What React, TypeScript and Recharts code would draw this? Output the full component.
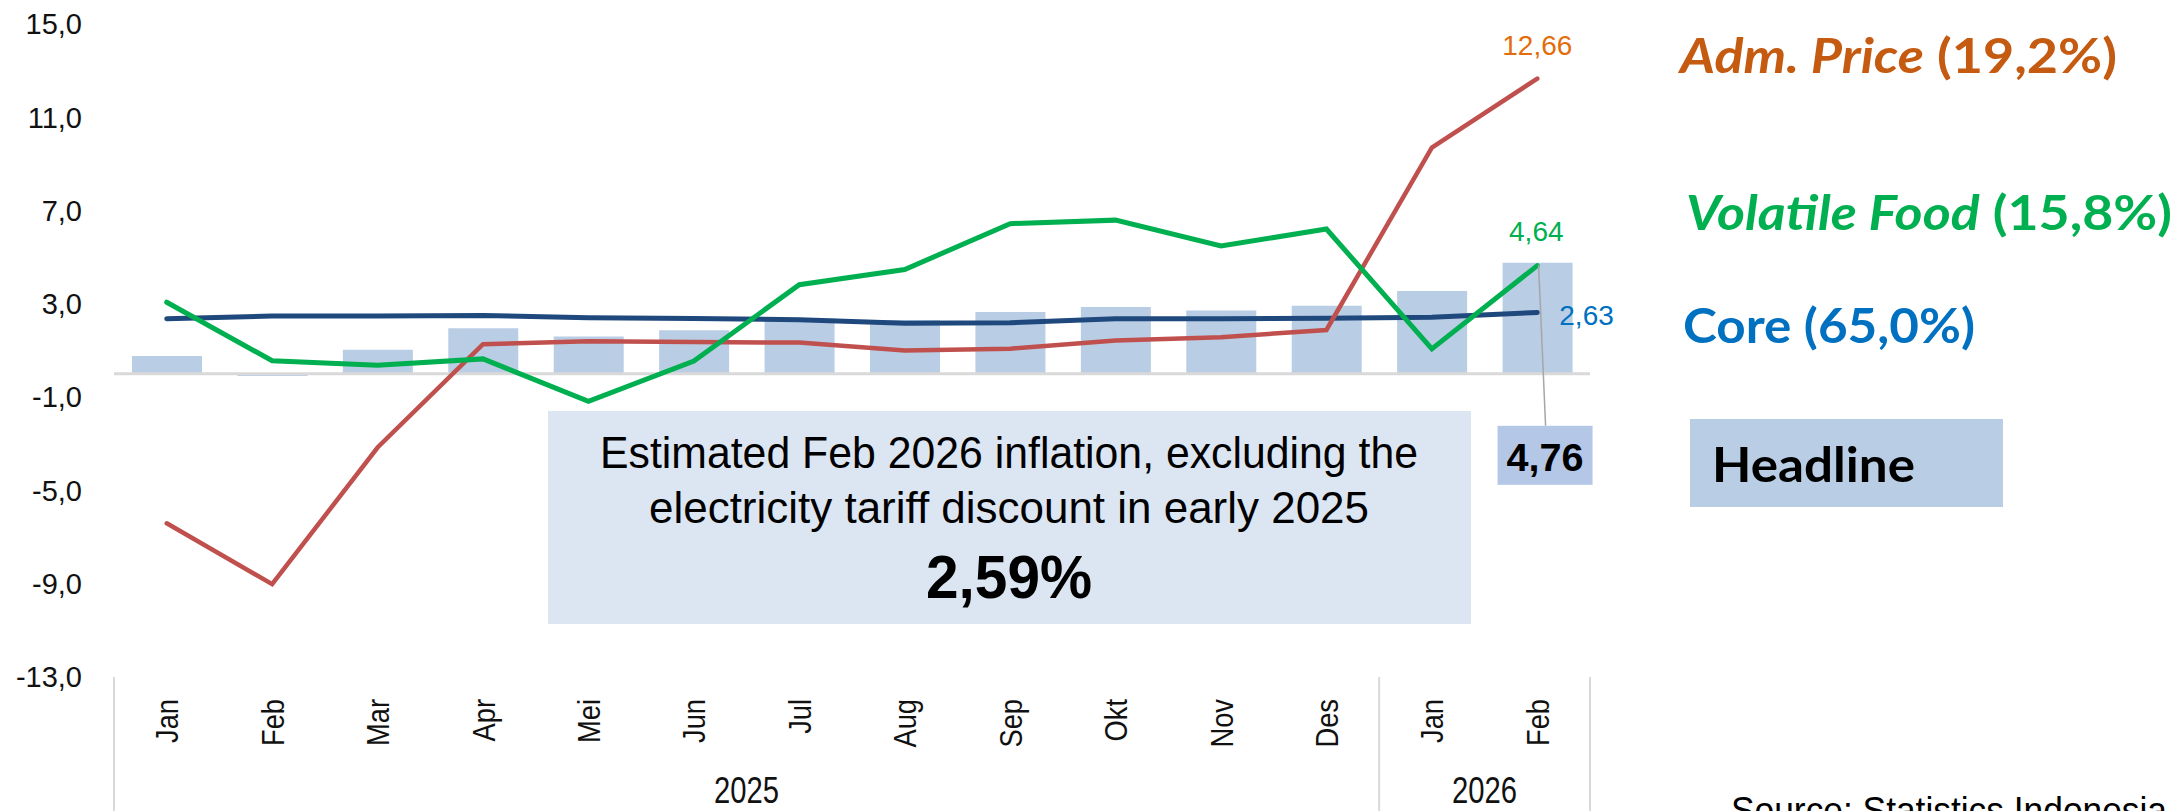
import React from "react";
import {
  ComposedChart,
  Bar,
  Line,
  XAxis,
  YAxis,
  ReferenceLine,
  LabelList,
} from "recharts";

// ---- data ----
const months = ["Jan", "Feb", "Mar", "Apr", "Mei", "Jun", "Jul", "Aug", "Sep", "Okt", "Nov", "Des", "Jan", "Feb"];
const years = ["2025", "2025", "2025", "2025", "2025", "2025", "2025", "2025", "2025", "2025", "2025", "2025", "2026", "2026"];
const headline = [0.76, -0.09, 1.03, 1.95, 1.6, 1.87, 2.37, 2.31, 2.65, 2.86, 2.72, 2.92, 3.55, 4.76];
const core = [2.36, 2.48, 2.48, 2.5, 2.4, 2.37, 2.32, 2.17, 2.19, 2.36, 2.36, 2.38, 2.43, 2.63];
const volatileFood = [3.07, 0.56, 0.37, 0.64, -1.18, 0.55, 3.82, 4.47, 6.44, 6.59, 5.48, 6.21, 1.07, 4.64];
const admPrice = [-6.41, -9.02, -3.16, 1.27, 1.4, 1.36, 1.34, 1.0, 1.08, 1.43, 1.57, 1.88, 9.7, 12.66];
const yTicks = [-13, -9, -5, -1, 3, 7, 11, 15];

const data = months.map((m, i) => ({
  m,
  year: years[i],
  headline: headline[i],
  core: core[i],
  vf: volatileFood[i],
  adm: admPrice[i],
}));

// ---- layout ----
const W = 2179;
const H = 811;
const PLOT_LEFT = 114;
const PLOT_RIGHT = 1590;
const PLOT_TOP = 24;
const PLOT_BOTTOM = 677;
const BAND = (PLOT_RIGHT - PLOT_LEFT) / months.length;

const ARIAL = "'Liberation Sans', Arial, sans-serif";
const LEGEND_FONT = "Lato, 'Open Sans', sans-serif";
const fmt = (v: number) => v.toFixed(2).replace(".", ",");
const last = months.length - 1;

const MonthTick = (props: any) => {
  const { x, index } = props;
  const year = years[index];
  const firstOfYear = index === 0 || years[index - 1] !== year;
  const count = years.filter((y) => y === year).length;
  const left = x - BAND / 2;
  return (
    <g>
      <text
        transform={`translate(${x + 11.5},${PLOT_BOTTOM + 22}) rotate(-90) scale(0.88,1)`}
        textAnchor="end"
        fontSize={31}
        fontFamily={ARIAL}
        fill="#111"
      >
        {months[index]}
      </text>
      {firstOfYear && (
        <>
          <line x1={left} x2={left} y1={PLOT_BOTTOM} y2={H} stroke="#D9D9D9" strokeWidth={2} />
          <text
            x={left + (count * BAND) / 2}
            y={PLOT_BOTTOM + 126}
            textAnchor="middle"
            fontSize={36}
            fontFamily={ARIAL}
            textLength={65}
            lengthAdjust="spacingAndGlyphs"
            fill="#111"
          >
            {year}
          </text>
        </>
      )}
      {index === last && (
        <line x1={x + BAND / 2} x2={x + BAND / 2} y1={PLOT_BOTTOM} y2={H} stroke="#D9D9D9" strokeWidth={2} />
      )}
    </g>
  );
};

const endLabel =
  (color: string, dx: number, dy: number, anchor: "middle" | "start") =>
  (props: any) => {
    const { x, y, value, index } = props;
    if (index !== last) return null;
    return (
      <text x={x + dx} y={y + dy} textAnchor={anchor} fontSize={28} fontFamily={ARIAL} fill={color}>
        {fmt(value)}
      </text>
    );
  };

const HeadlineLabel = (props: any) => {
  const { x, y, width, value, index } = props;
  if (index !== last) return null;
  const cx = x + width / 2;
  return (
    <g>
      <line x1={cx + 1} y1={y + 2} x2={cx + 8} y2={y + 163} stroke="#A6A6A6" strokeWidth={1.5} />
      <rect x={cx - 40} y={y + 163} width={95} height={59} fill="#B4C7E7" />
      <text
        x={cx + 7.5}
        y={y + 208}
        textAnchor="middle"
        fontSize={39}
        fontWeight="bold"
        fontFamily={ARIAL}
        textLength={77}
        lengthAdjust="spacingAndGlyphs"
        fill="#000"
      >
        {fmt(value)}
      </text>
    </g>
  );
};

export default function App() {
  return (
    <div style={{ position: "absolute", left: 0, top: 0, width: W, height: H, background: "#fff", overflow: "hidden" }}>
      <ComposedChart
        width={W}
        height={H}
        data={data}
        margin={{ top: PLOT_TOP, right: W - PLOT_RIGHT, bottom: 0, left: PLOT_LEFT - 100 }}
      >
        <XAxis
          dataKey="m"
          height={H - PLOT_BOTTOM}
          axisLine={false}
          tickLine={false}
          tickSize={0}
          tickMargin={0}
          interval={0}
          tick={<MonthTick />}
        />
        <YAxis
          width={100}
          domain={[-13, 15]}
          ticks={yTicks}
          interval={0}
          axisLine={false}
          tickLine={false}
          tickSize={0}
          tickMargin={32}
          tickFormatter={(v) => Number(v).toFixed(1).replace(".", ",")}
          tick={{ fontSize: 29, fill: "#111", fontFamily: ARIAL }}
        />
        <ReferenceLine y={0} stroke="#D9D9D9" strokeWidth={3} />
        <Bar dataKey="headline" fill="#B9CDE5" barSize={70} isAnimationActive={false}>
          <LabelList dataKey="headline" content={<HeadlineLabel />} />
        </Bar>
        <Line
          type="linear"
          dataKey="core"
          stroke="#1F497D"
          strokeWidth={5}
          dot={false}
          strokeLinecap="round"
          isAnimationActive={false}
        >
          <LabelList dataKey="core" content={endLabel("#0070C0", 22, 13, "start")} />
        </Line>
        <Line
          type="linear"
          dataKey="adm"
          stroke="#C0504D"
          strokeWidth={4.5}
          dot={false}
          strokeLinecap="round"
          isAnimationActive={false}
        >
          <LabelList dataKey="adm" content={endLabel("#E46C0A", 0, -24, "middle")} />
        </Line>
        <Line
          type="linear"
          dataKey="vf"
          stroke="#00B050"
          strokeWidth={5}
          dot={false}
          strokeLinecap="round"
          isAnimationActive={false}
        >
          <LabelList dataKey="vf" content={endLabel("#00B050", -1, -25, "middle")} />
        </Line>
      </ComposedChart>

      <svg width={W} height={H} style={{ position: "absolute", left: 0, top: 0, pointerEvents: "none" }}>
        {/* annotation box */}
        <rect x={548} y={411} width={923} height={213} fill="#DCE6F2" />
        <text x={1009} y={468} textAnchor="middle" fontSize={44} fontFamily={ARIAL} textLength={818} lengthAdjust="spacingAndGlyphs" fill="#000">
          Estimated Feb 2026 inflation, excluding the
        </text>
        <text x={1009} y={523} textAnchor="middle" fontSize={44} fontFamily={ARIAL} textLength={720} lengthAdjust="spacingAndGlyphs" fill="#000">
          electricity tariff discount in early 2025
        </text>
        <text x={1009} y={598} textAnchor="middle" fontSize={61} fontWeight="bold" fontFamily={ARIAL} textLength={166} lengthAdjust="spacingAndGlyphs" fill="#000">
          2,59%
        </text>

        {/* legend */}
        <text x={1680} y={73} fontSize={48} fontWeight="bold" fontFamily={LEGEND_FONT} fill="#C55A11" textLength={437} lengthAdjust="spacingAndGlyphs">
          <tspan fontStyle="italic">Adm. Price</tspan>
          <tspan> (19,2%)</tspan>
        </text>
        <text x={1686} y={230} fontSize={48} fontWeight="bold" fontFamily={LEGEND_FONT} fill="#00B050" textLength={486} lengthAdjust="spacingAndGlyphs">
          <tspan fontStyle="italic">Volatile Food</tspan>
          <tspan> (15,8%)</tspan>
        </text>
        <text x={1683} y={343} fontSize={48} fontWeight="bold" fontFamily={LEGEND_FONT} fill="#0070C0" textLength={292} lengthAdjust="spacingAndGlyphs">
          Core (65,0%)
        </text>
        <rect x={1690} y={419} width={313} height={88} fill="#B9CDE5" />
        <text x={1712} y={482} fontSize={48} fontWeight="bold" fontFamily={LEGEND_FONT} fill="#000" textLength={203} lengthAdjust="spacingAndGlyphs">
          Headline
        </text>

        {/* source, cut at the bottom edge as in the original */}
        <text x={1731} y={823} fontSize={36} fontFamily={ARIAL} fill="#000" textLength={436} lengthAdjust="spacingAndGlyphs">
          Source: Statistics Indonesia
        </text>
      </svg>
    </div>
  );
}
